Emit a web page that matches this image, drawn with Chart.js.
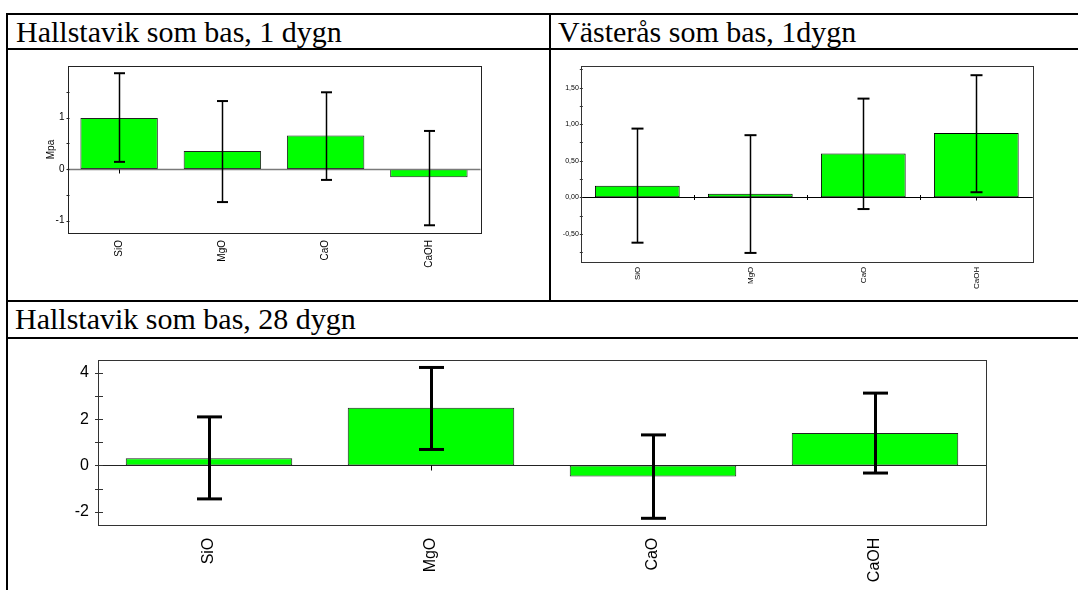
<!DOCTYPE html>
<html>
<head>
<meta charset="utf-8">
<script src="https://cdn.jsdelivr.net/npm/chart.js@4.4.1/dist/chart.umd.min.js"></script>
<style>
  body { margin: 0; background: #fff; width: 1078px; height: 590px; overflow: hidden; position: relative; }
  .ln { position: absolute; background: #000; }
  .cap { position: absolute; font-family: 'Liberation Serif', 'Times New Roman', serif; font-size: 30px; line-height: 30px; color: #000; white-space: nowrap; }
  .box { position: absolute; }
</style>
</head>
<body>
<!-- tabellens linjer -->
<div class="ln" style="left:6px; top:13px; width:1072px; height:2px;"></div>
<div class="ln" style="left:6px; top:48px; width:1072px; height:2px;"></div>
<div class="ln" style="left:6px; top:300px; width:1072px; height:2px;"></div>
<div class="ln" style="left:6px; top:337px; width:1072px; height:2px;"></div>
<div class="ln" style="left:6px; top:13px; width:2px; height:577px;"></div>
<div class="ln" style="left:549px; top:13px; width:2px; height:288px;"></div>

<div class="cap" style="left:16px; top:17px;">Hallstavik som bas, 1 dygn</div>
<div class="cap" style="left:558px; top:17px;">Västerås som bas, 1dygn</div>
<div class="cap" style="left:15px; top:304px;">Hallstavik som bas, 28 dygn</div>

<div class="box" style="left:8px; top:50px;"><canvas id="c1" width="540" height="248"></canvas></div>
<div class="box" style="left:551px; top:50px;"><canvas id="c2" width="527" height="248"></canvas></div>
<div class="box" style="left:8px; top:339px;"><canvas id="c3" width="1070" height="251"></canvas></div>

<script>
// ==================== data ====================
const categories = ['SiO', 'MgO', 'CaO', 'CaOH'];

// Hallstavik, 1 dygn (Mpa)
const hall1Mean = [0.99, 0.35, 0.65, -0.16];
const hall1Low  = [0.14, -0.64, -0.21, -1.09];
const hall1High = [1.86, 1.32, 1.49, 0.74];
const hall1Ticks = [-1, -0.5, 0, 0.5, 1, 1.5];

// Västerås, 1 dygn
const vast1Mean = [0.16, 0.05, 0.60, 0.88];
const vast1Low  = [-0.62, -0.76, -0.16, 0.07];
const vast1High = [0.94, 0.85, 1.35, 1.67];
const vast1Ticks = [-0.75, -0.5, -0.25, 0, 0.25, 0.5, 0.75, 1, 1.25, 1.5, 1.75];

// Hallstavik, 28 dygn
const hall28Mean = [0.31, 2.5, -0.48, 1.4];
const hall28Low  = [-1.45, 0.69, -2.29, -0.33];
const hall28High = [2.1, 4.24, 1.32, 3.13];
const hall28Ticks = [-2, -1, 0, 1, 2, 3, 4];

Chart.defaults.font.family = '"Liberation Sans", Arial, sans-serif';
Chart.defaults.color = '#000';

// ==================== ram, nollinje, felstaplar ====================
const decor = {
    id: 'decor',
    afterDatasetsDraw(chart, args, o) {
        const { ctx, chartArea: a, scales: { x, y } } = chart;
        const ds = chart.data.datasets[0];
        const y0 = Math.round(y.getPixelForValue(0)) + 0.5;
        const seg = (x1, y1, x2, y2) => { ctx.beginPath(); ctx.moveTo(x1, y1); ctx.lineTo(x2, y2); ctx.stroke(); };
        ctx.save();

        // nollinje
        ctx.strokeStyle = o.zeroColor;
        ctx.lineWidth = o.zeroWidth;
        seg(a.left, y0, a.right, y0);

        // små streck på x-axeln
        ctx.strokeStyle = '#000';
        ctx.lineWidth = 1;
        categories.forEach((c, i) => {
            const px = Math.round(x.getPixelForValue(i)) + 0.5;
            seg(px, y0, px, y0 + o.centerTick);
        });
        if (o.edgeTick) {
            for (let i = 0; i <= categories.length; i++) {
                const px = Math.round(x.getPixelForValue(i - 0.5)) + 0.5;
                seg(px, y0 - o.edgeTick, px, y0 + o.edgeTick);
            }
        }

        // felstaplar
        const meta = chart.getDatasetMeta(0);
        ctx.strokeStyle = '#000';
        meta.data.forEach((bar, i) => {
            const px = Math.round(bar.x) + 0.5;
            const yh = y.getPixelForValue(ds.errHigh[i]);
            const yl = y.getPixelForValue(ds.errLow[i]);
            ctx.lineWidth = o.errWidth;
            seg(px, yh, px, yl);
            ctx.lineWidth = o.capWidth;
            seg(px - o.capHalf, yh, px + o.capHalf, yh);
            seg(px - o.capHalf, yl, px + o.capHalf, yl);
        });

        // y-streck som korsar axeln
        ctx.lineWidth = 1;
        ctx.strokeStyle = o.frameColor;
        y.ticks.forEach(t => {
            const py = Math.round(y.getPixelForValue(t.value)) + 0.5;
            seg(a.left - o.tickOut, py, a.left + o.tickIn, py);
        });

        // ram
        ctx.strokeStyle = o.frameColor;
        ctx.lineWidth = 1;
        ctx.strokeRect(Math.round(a.left) + 0.5, Math.round(a.top) + 0.5, Math.round(a.width), Math.round(a.height));
        ctx.restore();
    }
};

function makeChart(id, s) {
    return new Chart(document.getElementById(id), {
        type: 'bar',
        data: {
            labels: categories,
            datasets: [{
                data: s.mean,
                errLow: s.low,
                errHigh: s.high,
                backgroundColor: '#00ff00',
                borderColor: s.barBorder,
                borderWidth: s.barBorderWidth,
                borderSkipped: false,
                barPercentage: 0.75,
                categoryPercentage: 1
            }]
        },
        options: {
            responsive: false,
            animation: false,
            events: [],
            layout: { padding: s.padding },
            plugins: {
                legend: { display: false },
                tooltip: { enabled: false },
                decor: s.decor
            },
            scales: {
                x: {
                    grid: { display: false, drawTicks: false },
                    border: { display: false },
                    ticks: { maxRotation: 90, minRotation: 90, padding: s.xPad, font: { size: s.xFont }, autoSkip: false },
                    afterFit: sc => { sc.height = s.xHeight; }
                },
                y: {
                    min: s.min,
                    max: s.max,
                    grid: { display: false, drawTicks: false },
                    border: { display: false },
                    title: s.yTitle ? { display: true, text: s.yTitle, font: { size: s.yFont }, padding: { top: 5, bottom: 0 } } : { display: false },
                    afterBuildTicks: sc => { sc.ticks = s.ticks.map(v => ({ value: v })); },
                    ticks: { padding: s.yPad, font: { size: s.yFont }, autoSkip: false, callback: s.fmt },
                    afterFit: sc => { sc.width = s.yWidth; }
                }
            }
        },
        plugins: [decor]
    });
}

makeChart('c1', {
    mean: hall1Mean, low: hall1Low, high: hall1High, ticks: hall1Ticks,
    min: -1.24, max: 2.0,
    fmt: v => Number.isInteger(v) ? String(v) : '',
    yTitle: 'Mpa', yFont: 10, xFont: 10, yPad: 3, xPad: 7,
    yWidth: 27.5, xHeight: 65,
    padding: { left: 32, top: 16, right: 67.5, bottom: 0 },
    barBorder: '#222', barBorderWidth: 1,
    decor: { zeroColor: '#7a7a7a', zeroWidth: 1.5, centerTick: 4, edgeTick: 0, errWidth: 1.5, capWidth: 2, capHalf: 5.5, frameColor: '#222', tickOut: 1, tickIn: 2 }
});

makeChart('c2', {
    mean: vast1Mean, low: vast1Low, high: vast1High, ticks: vast1Ticks,
    min: -0.88, max: 1.80,
    fmt: v => Math.abs(v * 2 - Math.round(v * 2)) < 1e-9 ? v.toFixed(2).replace('.', ',') : '',
    yTitle: '', yFont: 7, xFont: 8, yPad: 2, xPad: 5,
    yWidth: 29.8, xHeight: 36.3,
    padding: { left: 0, top: 15.7, right: 45.2, bottom: 0 },
    barBorder: '#000', barBorderWidth: 1,
    decor: { zeroColor: '#000', zeroWidth: 1, centerTick: 3, edgeTick: 2.5, errWidth: 1.5, capWidth: 2, capHalf: 6, frameColor: '#333', tickOut: 1, tickIn: 2 }
});

makeChart('c3', {
    mean: hall28Mean, low: hall28Low, high: hall28High, ticks: hall28Ticks,
    min: -2.61, max: 4.55,
    fmt: v => v % 2 === 0 ? String(v) : '',
    yTitle: '', yFont: 16, xFont: 16, yPad: 9, xPad: 12,
    yWidth: 90, xHeight: 64.3,
    padding: { left: 0, top: 21.3, right: 92, bottom: 0 },
    barBorder: '#222', barBorderWidth: 1,
    decor: { zeroColor: '#222', zeroWidth: 1, centerTick: 5, edgeTick: 0, errWidth: 3, capWidth: 3, capHalf: 12.5, frameColor: '#333', tickOut: 3, tickIn: 5 }
});
</script>
</body>
</html>
